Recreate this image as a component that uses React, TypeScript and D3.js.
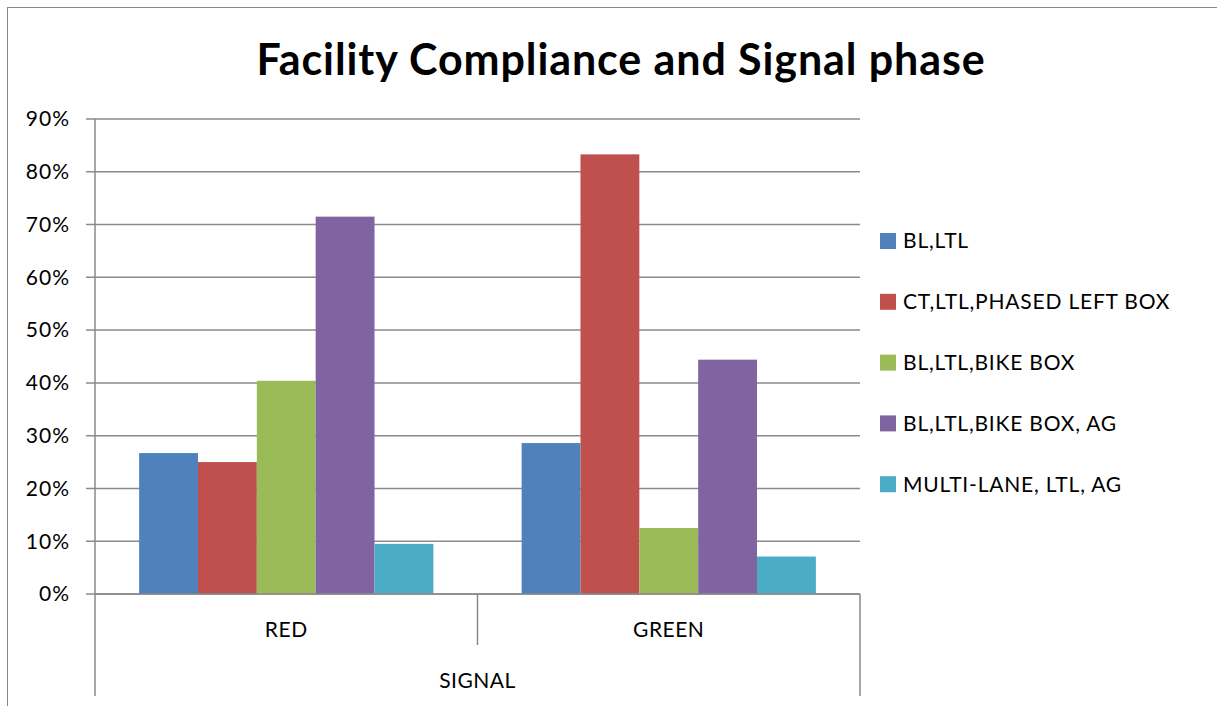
import * as d3 from "d3";

const categories = ["RED", "GREEN"];
const seriesNames = [
  "BL,LTL",
  "CT,LTL,PHASED LEFT BOX",
  "BL,LTL,BIKE BOX",
  "BL,LTL,BIKE BOX, AG",
  "MULTI-LANE, LTL, AG",
];
const seriesColors = ["#4f81bd", "#c0504d", "#9bbb59", "#8064a2", "#4bacc6"];
// values per series, one for each category (RED, GREEN)
const seriesValues = [
  [0.267, 0.286],
  [0.25, 0.833],
  [0.404, 0.125],
  [0.715, 0.444],
  [0.095, 0.071],
];
const yTicks = [0, 0.1, 0.2, 0.3, 0.4, 0.5, 0.6, 0.7, 0.8, 0.9];
const axisTitle = "SIGNAL";
const chartTitle = "Facility Compliance and Signal phase";

const W = 1217;
const H = 706;
const margin = { top: 119, left: 95, right: 357, bottom: 112 };
const font = "Lato, 'Open Sans', sans-serif";
const gridColor = "#8a8a8a";

export default function App() {
  const x0 = d3
    .scaleBand<string>()
    .domain(categories)
    .range([margin.left, W - margin.right]);
  const bw = x0.bandwidth() / 6.5;
  const x1 = d3
    .scaleBand<number>()
    .domain(d3.range(seriesNames.length))
    .range([0.75 * bw, 5.75 * bw]);
  const y = d3
    .scaleLinear()
    .domain([0, 0.9])
    .range([H - margin.bottom, margin.top]);
  const fmt = d3.format(".0%");
  const yBase = y(0);
  const xL = margin.left;
  const xR = W - margin.right;

  return (
    <svg
      width={W}
      height={H}
      style={{ position: "absolute", left: 0, top: 0, background: "#fff" }}
      fontFamily={font}
    >
      <rect x={7.5} y={7.5} width={W} height={H} fill="#fff" stroke="#888" strokeWidth={1} />
      <text
        x={621}
        y={75}
        textAnchor="middle"
        fontSize={43}
        fontWeight="bold"
        letterSpacing={0.9}
        fill="#000"
      >
        {chartTitle}
      </text>

      {yTicks.map((t) => (
        <g key={t}>
          <line x1={xL - 9} x2={xR} y1={y(t)} y2={y(t)} stroke={gridColor} strokeWidth={1.5} />
          <text
            x={70}
            y={y(t)}
            dy="0.35em"
            textAnchor="end"
            fontSize={21}
            letterSpacing={1}
            fill="#000"
          >
            {fmt(t)}
          </text>
        </g>
      ))}
      <line x1={xL} x2={xL} y1={margin.top} y2={yBase} stroke={gridColor} strokeWidth={1.5} />

      {seriesValues.map((vals, si) =>
        vals.map((v, ci) => (
          <rect
            key={`${si}-${ci}`}
            x={(x0(categories[ci]) ?? 0) + (x1(si) ?? 0)}
            width={x1.bandwidth()}
            y={y(v)}
            height={yBase - y(v)}
            fill={seriesColors[si]}
          />
        ))
      )}

      <line x1={xL} x2={xR} y1={yBase} y2={yBase} stroke={gridColor} strokeWidth={1.5} />
      <line x1={xL} x2={xL} y1={yBase} y2={696} stroke={gridColor} strokeWidth={1.5} />
      <line x1={xR} x2={xR} y1={yBase} y2={696} stroke={gridColor} strokeWidth={1.5} />
      {categories.slice(1).map((c) => (
        <line
          key={c}
          x1={x0(c)}
          x2={x0(c)}
          y1={yBase}
          y2={645}
          stroke={gridColor}
          strokeWidth={1.5}
        />
      ))}
      {categories.map((c) => (
        <text
          key={c}
          x={(x0(c) ?? 0) + x0.bandwidth() / 2}
          y={630}
          dy="0.35em"
          textAnchor="middle"
          fontSize={21}
          letterSpacing={0.5}
          fill="#000"
        >
          {c}
        </text>
      ))}
      <text
        x={(xL + xR) / 2}
        y={681}
        dy="0.35em"
        textAnchor="middle"
        fontSize={21}
        letterSpacing={0.5}
        fill="#000"
      >
        {axisTitle}
      </text>

      {seriesNames.map((name, i) => {
        const cy = 241 + i * 60.8;
        return (
          <g key={name}>
            <rect x={880} y={cy - 8} width={16} height={16} fill={seriesColors[i]} />
            <text x={903} y={cy} dy="0.35em" fontSize={21} letterSpacing={0.8} fill="#000">
              {name}
            </text>
          </g>
        );
      })}
    </svg>
  );
}
